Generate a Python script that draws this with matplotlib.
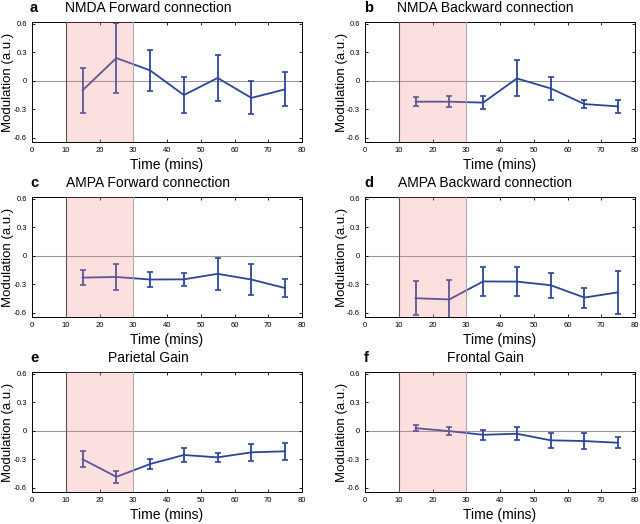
import matplotlib
matplotlib.use("Agg")
import matplotlib.pyplot as plt
import numpy as np

plt.rcParams['font.family'] = ['Liberation Sans', 'DejaVu Sans']

times = [15, 25, 35, 45, 55, 65, 75]
panel_letters = ['a', 'b', 'c', 'd', 'e', 'f']
titles = ['NMDA Forward connection', 'NMDA Backward connection',
          'AMPA Forward connection', 'AMPA Backward connection',
          'Parietal Gain', 'Frontal Gain']

nmda_fwd_mean = [-0.10, 0.24, 0.11, -0.15, 0.03, -0.18, -0.09]
nmda_fwd_err = [0.24, 0.37, 0.22, 0.19, 0.245, 0.175, 0.18]
nmda_bwd_mean = [-0.22, -0.22, -0.23, 0.025, -0.08, -0.245, -0.27]
nmda_bwd_err = [0.05, 0.06, 0.065, 0.19, 0.125, 0.04, 0.07]
ampa_fwd_mean = [-0.23, -0.223, -0.25, -0.248, -0.19, -0.25, -0.34]
ampa_fwd_err = [0.08, 0.135, 0.08, 0.065, 0.17, 0.165, 0.095]
ampa_bwd_mean = [-0.447, -0.46, -0.27, -0.272, -0.31, -0.44, -0.385]
ampa_bwd_err = [0.18, 0.21, 0.15, 0.155, 0.13, 0.105, 0.225]
par_gain_mean = [-0.30, -0.485, -0.35, -0.255, -0.28, -0.227, -0.216]
par_gain_err = [0.085, 0.06, 0.055, 0.07, 0.05, 0.09, 0.09]
fro_gain_mean = [0.028, -0.003, -0.042, -0.031, -0.10, -0.108, -0.126]
fro_gain_err = [0.035, 0.045, 0.05, 0.068, 0.08, 0.08, 0.056]

means = [nmda_fwd_mean, nmda_bwd_mean, ampa_fwd_mean, ampa_bwd_mean, par_gain_mean, fro_gain_mean]
errs = [nmda_fwd_err, nmda_bwd_err, ampa_fwd_err, ampa_bwd_err, par_gain_err, fro_gain_err]

xticks = [0, 10, 20, 30, 40, 50, 60, 70, 80]
yticks = [-0.6, -0.3, 0, 0.3, 0.6]
ytick_labels = ['-0.6', '-0.3', '0', '0.3', '0.6']

W, H = 640, 524
fig = plt.figure(figsize=(6.4, 5.24), dpi=100)

col_left = [32, 365]
ax_w = 270
row_top = [22, 197, 372]
ax_h = 120
title_cx = [148, 485]
letter_x = [30, 364]
ylabel_x = [8, 342]

line_color = '#2b4598'

for i in range(6):
    r, c = divmod(i, 2)
    l = col_left[c] / W
    b = 1 - (row_top[r] + ax_h) / H
    ax = fig.add_axes([l, b, ax_w / W, ax_h / H])
    ax.set_xlim(0, 80)
    ax.set_ylim(-0.645, 0.62)
    ax.axhline(0, color='#999999', lw=0.8, zorder=1)
    ax.errorbar(times, means[i], yerr=errs[i], color=line_color, lw=1.3,
                elinewidth=1.3, capsize=2.5, capthick=1.2, zorder=2)
    ax.axvspan(10, 30, facecolor=(247/255, 135/255, 135/255), alpha=0.25,
               edgecolor='none', zorder=3)
    ax.axvline(10, color='#555555', lw=0.8, zorder=4)
    ax.axvline(30, color='#aaaaaa', lw=0.8, zorder=4)
    ax.set_xticks(xticks)
    ax.set_xticklabels([str(t) for t in xticks])
    ax.set_yticks(yticks)
    ax.set_yticklabels(ytick_labels)
    ax.tick_params(direction='in', length=2.5, width=0.6, labelsize=5.5,
                   top=True, right=True, pad=3.5)
    for s in ax.spines.values():
        s.set_linewidth(0.7)
    ax.set_xlabel('Time (mins)', fontsize=10, labelpad=3)
    ax.set_ylabel('Modulation (a.u.)', fontsize=9.5, va='center')
    ax.yaxis.set_label_coords((ylabel_x[c] - col_left[c]) / ax_w, 0.5)
    ty = 1 - (row_top[r] - 14) / H
    fig.text(title_cx[c] / W, ty, titles[i], fontsize=10, ha='center', va='center')
    fig.text(letter_x[c] / W, ty, panel_letters[i], fontsize=10.5,
             fontweight='bold', ha='left', va='center')

fig.savefig('out.png', dpi=100)
